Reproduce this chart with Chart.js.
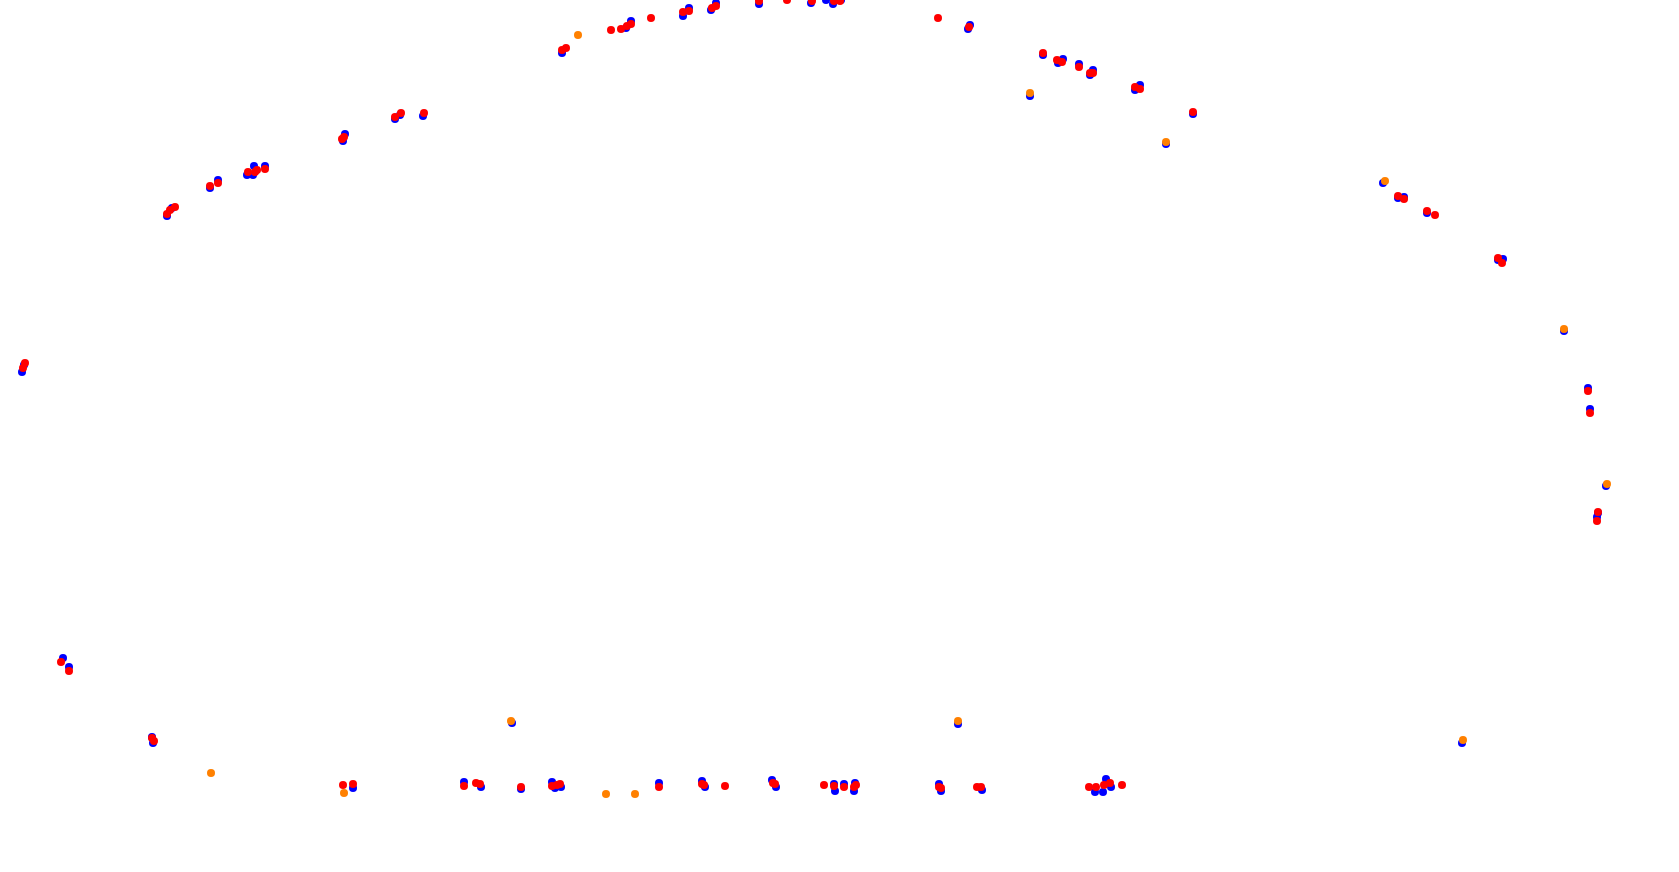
<!DOCTYPE html>
<html>
<head>
<meta charset="utf-8">
<script src="https://cdn.jsdelivr.net/npm/chart.js@4/dist/chart.umd.min.js"></script>
<style>
  html, body { margin: 0; padding: 0; background: #fff; }
  #wrap { width: 1679px; height: 872px; }
</style>
</head>
<body>
<div id="wrap"><canvas id="track"></canvas></div>
<script>
// track samples (x to the right, y downward)
var bluePoints = [
  [22,372],[24,365],[167,216],[172,208],[210,188],[218,180],[247,175],[253,175],[254,166],[265,166],
  [343,141],[345,134],[395,119],[400,115],[423,116],[562,53],[626,28],[631,21],[683,16],[689,8],
  [711,10],[716,3],[759,4],[811,3],[826,0],[833,4],[841,0],[968,29],[970,25],[1030,96],
  [1043,55],[1058,63],[1063,59],[1079,64],[1090,75],[1093,70],[1135,90],[1140,85],[1166,144],[1193,114],
  [1383,183],[1398,198],[1404,197],[1427,213],[1498,260],[1503,259],[1564,331],[1588,388],[1590,409],[1606,486],
  [1598,513],[1597,517],[63,658],[69,667],[152,737],[153,743],[353,788],[464,782],[481,787],[512,723],
  [521,789],[552,782],[555,788],[561,787],[659,783],[702,781],[705,787],[772,780],[776,787],[834,784],
  [835,791],[844,784],[855,783],[854,791],[939,784],[941,791],[958,724],[982,790],[1095,792],[1103,792],
  [1106,779],[1111,787],[1462,743]
];

var redPoints = [
  [23,368],[25,363],[167,214],[170,210],[175,207],[210,186],[218,183],[248,172],[255,172],[257,170],
  [265,169],[342,139],[344,137],[395,117],[401,113],[424,113],[562,50],[566,48],[611,30],[621,29],
  [627,26],[631,24],[651,18],[683,12],[689,11],[712,8],[716,6],[759,1],[787,0],[812,1],
  [834,1],[840,1],[938,18],[969,27],[1043,53],[1057,60],[1062,62],[1079,67],[1090,73],[1093,73],
  [1135,87],[1140,89],[1193,112],[1398,196],[1404,199],[1427,211],[1435,215],[1498,258],[1502,263],[1588,391],
  [1590,413],[1598,512],[1597,521],[61,662],[69,671],[152,738],[154,741],[343,785],[353,784],[464,786],
  [476,783],[480,784],[521,787],[552,786],[557,785],[560,784],[659,787],[702,784],[704,785],[725,786],
  [773,783],[775,784],[824,785],[834,786],[844,787],[854,787],[856,785],[939,787],[941,788],[977,787],
  [981,787],[1089,787],[1096,787],[1104,785],[1110,783],[1122,785]
];

var orangePoints = [
  [211,773],[344,793],[511,721],[578,35],[606,794],[635,794],[958,721],
  [1030,93],[1166,142],[1385,181],[1463,740],[1564,329],[1607,484]
];

function toXY(list) {
  return list.map(function (p) { return { x: p[0], y: p[1] }; });
}

var ctx = document.getElementById('track').getContext('2d');

var chart = new Chart(ctx, {
  type: 'scatter',
  data: {
    datasets: [
      // first dataset is painted last, so red ends up on top
      { label: 'red', data: toXY(redPoints), backgroundColor: '#ff0000', borderColor: '#ff0000' },
      { label: 'orange', data: toXY(orangePoints), backgroundColor: '#ff8000', borderColor: '#ff8000' },
      { label: 'blue', data: toXY(bluePoints), backgroundColor: '#0000ff', borderColor: '#0000ff' }
    ]
  },
  options: {
    responsive: true,
    maintainAspectRatio: false,
    animation: false,
    layout: { padding: 0, autoPadding: false },
    elements: { point: { radius: 4, borderWidth: 0, hoverRadius: 4 } },
    datasets: { scatter: { clip: false } },
    plugins: { legend: { display: false }, tooltip: { enabled: false } },
    scales: {
      x: { type: 'linear', min: 0, max: 1679, display: false },
      y: { type: 'linear', min: 0, max: 872, reverse: true, display: false }
    }
  }
});
</script>
</body>
</html>
